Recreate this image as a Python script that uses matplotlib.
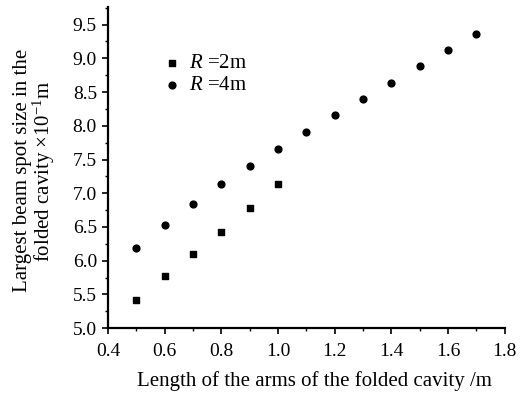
import matplotlib
matplotlib.use("Agg")
import matplotlib.pyplot as plt
from matplotlib.ticker import MultipleLocator

plt.rcParams['font.family'] = ['Liberation Serif', 'DejaVu Serif']
plt.rcParams['mathtext.fontset'] = 'custom'
plt.rcParams['mathtext.rm'] = 'Liberation Serif'
plt.rcParams['mathtext.it'] = 'Liberation Serif:italic'

x_r2 = [0.5, 0.6, 0.7, 0.8, 0.9, 1.0]
y_r2 = [5.41, 5.77, 6.10, 6.43, 6.78, 7.13]
x_r4 = [0.5, 0.6, 0.7, 0.8, 0.9, 1.0, 1.1, 1.2, 1.3, 1.4, 1.5, 1.6, 1.7]
y_r4 = [6.19, 6.53, 6.84, 7.13, 7.40, 7.66, 7.91, 8.16, 8.40, 8.64, 8.88, 9.12, 9.36]
labels = [r"$R$ =2m", r"$R$ =4m"]
xticks = [0.4, 0.6, 0.8, 1.0, 1.2, 1.4, 1.6, 1.8]
yticks = [5.0, 5.5, 6.0, 6.5, 7.0, 7.5, 8.0, 8.5, 9.0, 9.5]

fig = plt.figure(figsize=(5.22, 3.93), dpi=100)
ax = fig.add_axes([0.207, 0.165, 0.760, 0.817])
ax.scatter(x_r2, y_r2, marker='s', s=20, color='black', label=labels[0], zorder=3)
ax.scatter(x_r4, y_r4, marker='o', s=24, color='black', label=labels[1], zorder=3)

ax.set_xlim(0.4, 1.8)
ax.set_ylim(5.0, 9.76)
ax.set_xticks(xticks)
ax.set_yticks(yticks)
ax.xaxis.set_minor_locator(MultipleLocator(0.1))
ax.yaxis.set_minor_locator(MultipleLocator(0.25))
ax.set_xticklabels([f"{v:.1f}" for v in xticks])
ax.set_yticklabels([f"{v:.1f}" for v in yticks])
ax.tick_params(axis='both', which='major', direction='out', length=4, width=1.2, labelsize=14, colors='black')
ax.tick_params(axis='both', which='minor', direction='out', length=2.5, width=1.0)
ax.tick_params(axis='x', pad=7)
ax.tick_params(axis='y', pad=4)
ax.spines['top'].set_visible(False)
ax.spines['right'].set_visible(False)
ax.spines['left'].set_linewidth(1.6)
ax.spines['bottom'].set_linewidth(1.6)

ax.set_xlabel("Length of the arms of the folded cavity /m", fontsize=15)
ax.xaxis.set_label_coords(0.52, -0.133)
ax.set_ylabel("Largest beam spot size in the\nfolded cavity $\\times$10$^{-1}$m", fontsize=15, linespacing=0.95)
ax.yaxis.set_label_coords(-0.128, 0.49)

ax.legend(loc='upper left', bbox_to_anchor=(0.093, 0.90), frameon=False, fontsize=15,
          handletextpad=0.2, labelspacing=0.1, handlelength=1.2, borderpad=0.2)

fig.savefig("out.png", dpi=100)
